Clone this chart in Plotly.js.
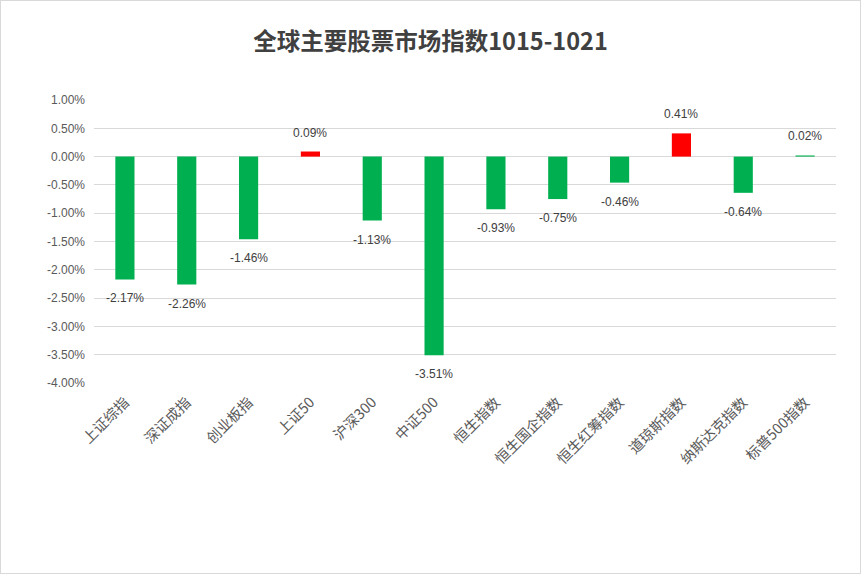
<!DOCTYPE html>
<html><head><meta charset="utf-8">
<script src="https://cdn.plot.ly/plotly-3.0.1.min.js"></script>
<style>html,body{margin:0;padding:0;background:#fff}#c{width:859px;height:572px;border:1px solid #d9d9d9}</style>
</head><body><div id="c"></div>
<script>
const categories = ["上证综指","深证成指","创业板指","上证50","沪深300","中证500","恒生指数","恒生国企指数","恒生红筹指数","道琼斯指数","纳斯达克指数","标普500指数"];
const values = [-2.17,-2.26,-1.46,0.09,-1.13,-3.51,-0.93,-0.75,-0.46,0.41,-0.64,0.02];
const barColors = ["#00B050","#00B050","#00B050","#FF0000","#00B050","#00B050","#00B050","#00B050","#00B050","#FF0000","#00B050","#00B050"];
const tickVals = [1,0.5,0,-0.5,-1,-1.5,-2,-2.5,-3,-3.5,-4];
const tickText = tickVals.map(v => v.toFixed(2) + "%");
const font = "Noto Sans CJK SC, Noto Sans, sans-serif";
const numFont = "Liberation Sans, Arial, sans-serif";
const annotations = categories.map((c, i) => ({
  x: c, y: values[i], xref: "x", yref: "y",
  text: values[i].toFixed(2) + "%", showarrow: false,
  yanchor: values[i] < 0 ? "top" : "bottom",
  yshift: values[i] < 0 ? -10 : 10,
  font: {family: numFont, size: 12, color: "#404040"}
}));
Plotly.newPlot("c", [{
  type: "bar", x: categories, y: values,
  marker: {color: barColors},
  width: 0.31,
  hoverinfo: "none"
}], {
  width: 859, height: 572,
  margin: {l: 93, r: 24, t: 99, b: 190},
  paper_bgcolor: "#fff", plot_bgcolor: "#fff",
  title: {text: "<b>全球主要股票市场指数1015-1021</b>", font: {family: font, size: 23.5, color: "#404040"}, x: 0.5, xanchor: "center", y: 0.928, yanchor: "middle"},
  xaxis: {tickangle: -45, tickfont: {family: font, size: 14.5, color: "#595959"}, showline: false, ticks: "", showgrid: false, zeroline: false, ticklabelstandoff: 7},
  yaxis: {range: [-4, 1], tickvals: tickVals, ticktext: tickText, tickfont: {family: numFont, size: 12, color: "#595959"},
    showgrid: true, gridcolor: "#d9d9d9", gridwidth: 1, zeroline: true, zerolinecolor: "#d9d9d9", zerolinewidth: 1, showline: false, ticks: "", ticklabelstandoff: 8},
  annotations: annotations,
  showlegend: false
}, {displayModeBar: false, staticPlot: true});
</script></body></html>
